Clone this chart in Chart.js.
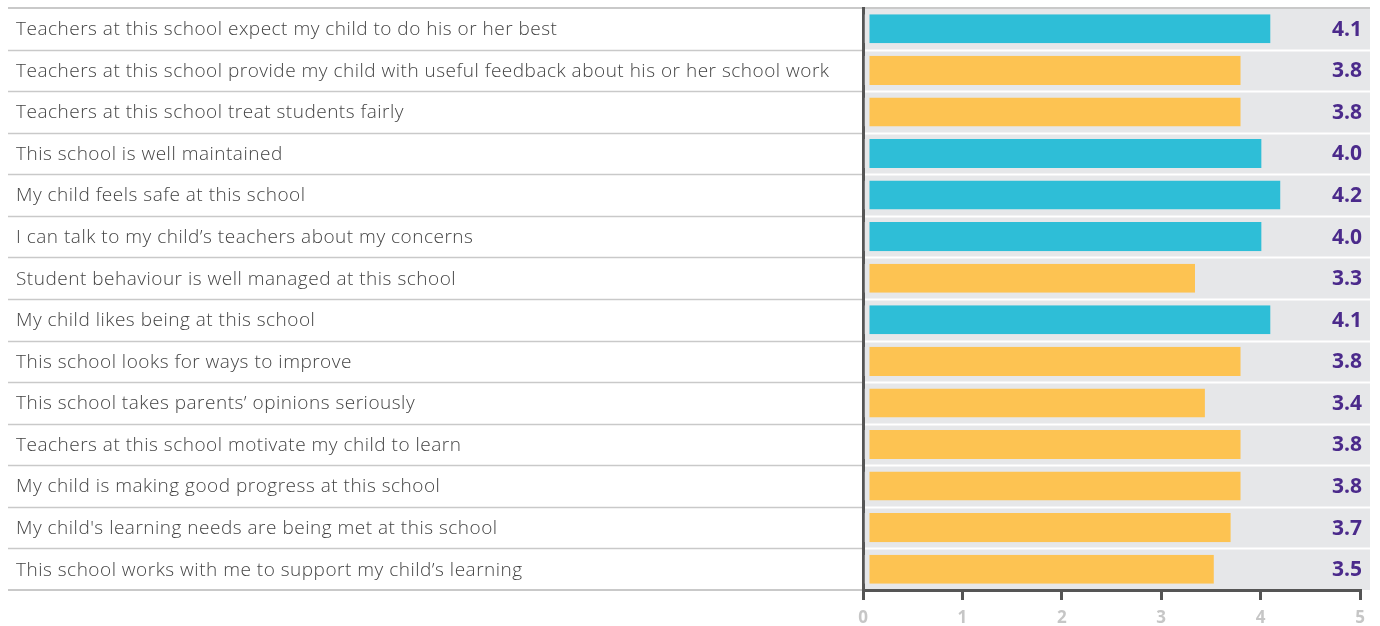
<!DOCTYPE html>
<html>
<head>
<meta charset="utf-8">
<script src="https://cdn.jsdelivr.net/npm/chart.js@4"></script>
<style>
  html, body { margin: 0; padding: 0; background: #fff; }
  #wrap { width: 1380px; height: 626px; }
</style>
</head>
<body>
<div id="wrap"><canvas id="surveyChart"></canvas></div>
<script>
const statements = [
  "Teachers at this school expect my child to do his or her best",
  "Teachers at this school provide my child with useful feedback about his or her school work",
  "Teachers at this school treat students fairly",
  "This school is well maintained",
  "My child feels safe at this school",
  "I can talk to my child\u2019s teachers about my concerns",
  "Student behaviour is well managed at this school",
  "My child likes being at this school",
  "This school looks for ways to improve",
  "This school takes parents\u2019 opinions seriously",
  "Teachers at this school motivate my child to learn",
  "My child is making good progress at this school",
  "My child's learning needs are being met at this school",
  "This school works with me to support my child\u2019s learning"
];
const scores = [4.1, 3.8, 3.8, 4.01, 4.2, 4.01, 3.34, 4.1, 3.8, 3.44, 3.8, 3.8, 3.7, 3.53];
const xTicks = [0, 1, 2, 3, 4, 5];

const TEAL = "#2ebed7";
const YELLOW = "#fdc352";
const PANEL = "#e6e7e9";

// background panel, row separators, statement text and score labels
const rowsPlugin = {
  id: "rows",
  beforeDraw(chart) {
    const { ctx, chartArea } = chart;
    const rowH = (chartArea.bottom - chartArea.top) / statements.length;
    ctx.save();
    ctx.fillStyle = PANEL;
    ctx.fillRect(chartArea.left, chartArea.top, chartArea.right + 10 - chartArea.left, chartArea.bottom - chartArea.top);
    for (let i = 1; i < statements.length; i++) {
      const yy = Math.round(chartArea.top + i * rowH) + 0.5;
      ctx.strokeStyle = "#c9c9c9";
      ctx.lineWidth = 1.5;
      ctx.beginPath(); ctx.moveTo(8, yy); ctx.lineTo(chartArea.left, yy); ctx.stroke();
      ctx.strokeStyle = "#ffffff";
      ctx.lineWidth = 2;
      ctx.beginPath(); ctx.moveTo(chartArea.left, yy); ctx.lineTo(chartArea.right + 10, yy); ctx.stroke();
    }
    ctx.strokeStyle = "#c9c9c9";
    ctx.lineWidth = 2;
    ctx.beginPath(); ctx.moveTo(8, chartArea.top); ctx.lineTo(chartArea.right + 10, chartArea.top); ctx.stroke();
    ctx.beginPath(); ctx.moveTo(8, chartArea.bottom); ctx.lineTo(chartArea.left, chartArea.bottom); ctx.stroke();
    ctx.restore();
  },
  afterDatasetsDraw(chart) {
    const { ctx, chartArea } = chart;
    const y = chart.scales.y;
    const meta = chart.getDatasetMeta(0);
    ctx.save();
    ctx.textBaseline = "middle";
    ctx.textAlign = "left";
    ctx.fillStyle = "#444";
    ctx.font = "300 19px 'Open Sans', sans-serif";
    ctx.letterSpacing = "0.5px";
    statements.forEach((s, i) => {
      ctx.fillText(s, 16, y.getPixelForValue(i) + 1);
    });
    ctx.letterSpacing = "0px";
    ctx.font = "bold 21px 'Open Sans', sans-serif";
    ctx.fillStyle = "#4b2a8b";
    ctx.textAlign = "right";
    meta.data.forEach((bar, i) => {
      ctx.fillText(scores[i].toFixed(1), chartArea.right + 2, bar.y + 1);
    });
    ctx.restore();
  }
};

new Chart(document.getElementById("surveyChart"), {
  type: "bar",
  data: {
    labels: statements,
    datasets: [{
      data: scores,
      backgroundColor: scores.map(v => v >= 4 ? TEAL : YELLOW),
      borderColor: PANEL,
      borderWidth: { left: 5, right: 0, top: 0, bottom: 0 },
      borderSkipped: false,
      barPercentage: 0.7,
      categoryPercentage: 1.0
    }]
  },
  options: {
    indexAxis: "y",
    responsive: true,
    maintainAspectRatio: false,
    animation: false,
    layout: { padding: { left: 16, right: 20, top: 8, bottom: 0 } },
    plugins: { legend: { display: false }, tooltip: { enabled: false } },
    scales: {
      x: {
        min: 0,
        max: 5,
        afterBuildTicks(scale) { scale.ticks = xTicks.map(v => ({ value: v })); },
        afterFit(scale) { scale.height = 36; },
        grid: { display: true, drawOnChartArea: false, drawTicks: true, tickLength: 10, color: "#555", lineWidth: 3 },
        border: { display: true, color: "#555", width: 3 },
        ticks: { color: "#c6c6c6", padding: 8, font: { family: "'Open Sans', sans-serif", size: 17, weight: "bold" } }
      },
      y: {
        afterFit(scale) { scale.width = 847; },
        grid: { display: false },
        border: { display: true, color: "#555", width: 3 },
        ticks: { display: false }
      }
    }
  },
  plugins: [rowsPlugin]
});
</script>
</body>
</html>
